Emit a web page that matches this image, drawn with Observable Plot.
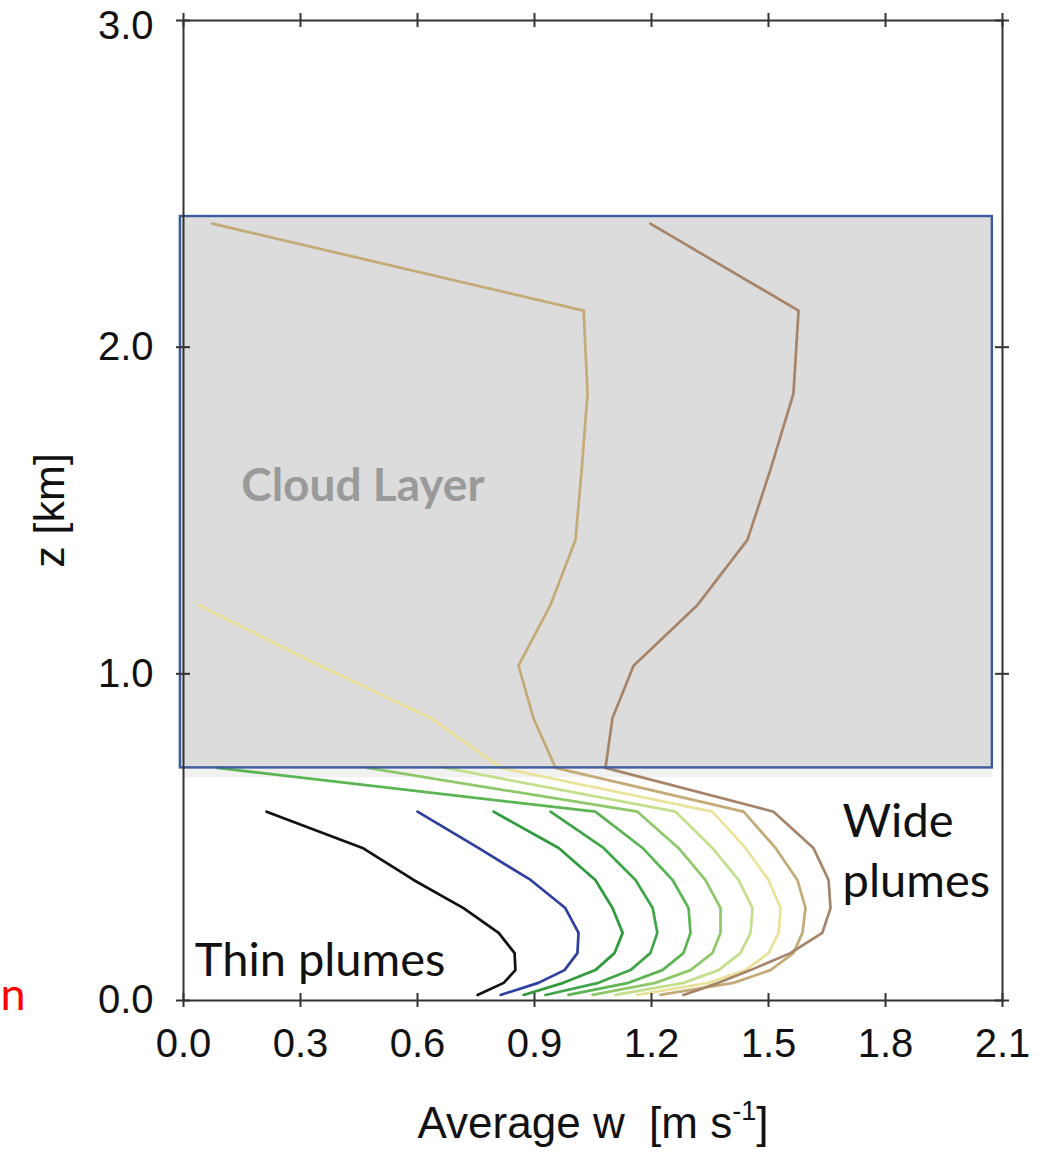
<!DOCTYPE html>
<html>
<head>
<meta charset="utf-8">
<script src="https://cdn.jsdelivr.net/npm/d3@7"></script>
<script src="https://cdn.jsdelivr.net/npm/@observablehq/plot@0.6"></script>
<style>
  html, body { margin: 0; padding: 0; background: #fff; }
  #chart svg { display: block; }
</style>
</head>
<body>
<div id="chart"></div>
<script>
// Model levels (km) on which the plume-averaged vertical velocity is sampled
const zLevels = [0.017, 0.054, 0.093, 0.145, 0.207, 0.283, 0.369, 0.467, 0.578,
                 0.712, 0.865, 1.025, 1.211, 1.41, 1.625, 1.858, 2.112, 2.378];

// Plume size classes, thin to wide
const plumeNames = ["p1", "p2", "p3", "p4", "p5", "p6", "p7", "p8", "p9", "p10"];
const plumeColors = ["#111111", "#2f3f9f", "#2e9a3c", "#3fa548", "#5ab552",
                     "#8dc86a", "#c4df8c", "#ebe29a", "#c4aa76", "#a6846a"];

// Average w (m/s) of each plume class, from the lowest level upward
const wP1  = [0.754, 0.821, 0.851, 0.849, 0.808, 0.718, 0.590, 0.459, 0.213];
const wP2  = [0.813, 0.910, 0.977, 1.010, 1.013, 0.979, 0.890, 0.756, 0.600];
const wP3  = [0.872, 0.974, 1.056, 1.105, 1.126, 1.100, 1.056, 0.962, 0.795];
const wP4  = [0.928, 1.064, 1.146, 1.197, 1.215, 1.203, 1.159, 1.077, 0.941];
const wP5  = [0.987, 1.141, 1.228, 1.282, 1.300, 1.295, 1.254, 1.177, 1.056, 0.087];
const wP6  = [1.049, 1.210, 1.300, 1.356, 1.377, 1.377, 1.338, 1.269, 1.164, 0.472];
const wP7  = [1.108, 1.282, 1.372, 1.428, 1.454, 1.459, 1.423, 1.356, 1.262, 0.672];
const wP8  = [1.164, 1.346, 1.441, 1.500, 1.526, 1.531, 1.500, 1.441, 1.356, 0.815,
              0.633, 0.351, 0.038];
const wP9  = [1.223, 1.410, 1.505, 1.564, 1.587, 1.595, 1.574, 1.518, 1.436, 0.954,
              0.897, 0.859, 0.941, 1.005, 1.021, 1.036, 1.026, 0.074];
const wP10 = [1.282, 1.372, 1.454, 1.556, 1.638, 1.659, 1.654, 1.615, 1.513, 1.082,
              1.100, 1.154, 1.318, 1.446, 1.505, 1.564, 1.577, 1.197];
const plumeW = [wP1, wP2, wP3, wP4, wP5, wP6, wP7, wP8, wP9, wP10];

// Cloud layer extent
const cloudZ = [0.712, 2.40];
const cloudW = [-0.008, 2.074];

// Axis ticks
const xTicks = [0, 0.3, 0.6, 0.9, 1.2, 1.5, 1.8, 2.1];
const yTicks = [0, 1, 2, 3];
const xTitle = "Average w  [m s-1]";

const rows = plumeW.flatMap((ws, i) =>
  ws.map((w, j) => ({plume: plumeNames[i], w, z: zLevels[j]})));
const cloud = [{w1: cloudW[0], w2: cloudW[1], z1: cloudZ[0], z2: cloudZ[1]}];

const W = 1043, H = 1154;
const mTop = 20, mBottom = 154, mLeft = 183, mRight = 41;
const innerW = W - mLeft - mRight, innerH = H - mTop - mBottom;
const tick = 7;
const axisFont = "'Liberation Sans', Arial, Helvetica, sans-serif";
const noteFont = "Lato, 'Open Sans', sans-serif";
const yFmt = d3.format(".1f");

const chart = Plot.plot({
  width: W,
  height: H,
  marginTop: mTop,
  marginBottom: mBottom,
  marginLeft: mLeft,
  marginRight: mRight,
  style: {fontFamily: axisFont, fontSize: "40px", background: "#fff", color: "#111"},
  x: {domain: [0, 2.1]},
  y: {domain: [0, 3]},
  color: {type: "ordinal", domain: plumeNames, range: plumeColors},
  marks: [
    // faint haze just beneath the cloud base
    Plot.rect(cloud, {x1: 0, x2: "w2", y1: 0.682, y2: "z1", fill: "#f1f1f1"}),
    Plot.rect(cloud, {x1: "w1", x2: "w2", y1: "z1", y2: "z2", fill: "#dcdcdc"}),
    Plot.text(["Cloud Layer"], {x: 0.148, y: 1.528, textAnchor: "start", lineAnchor: "bottom",
      fontFamily: noteFont, fontWeight: "bold", fontSize: 46, fill: "#9a9a9a"}),
    Plot.line(rows, {x: "w", y: "z", z: "plume", stroke: "plume", strokeWidth: 2.7,
      strokeLinejoin: "round", strokeLinecap: "round"}),
    Plot.rect(cloud, {x1: "w1", x2: "w2", y1: "z1", y2: "z2", fill: "none",
      stroke: "#3a5a9c", strokeWidth: 2.4}),
    Plot.frame({stroke: "#333", strokeWidth: 2}),
    // ticks crossing every side of the frame
    Plot.ruleX(xTicks, {x: d => d, insetTop: innerH - tick, insetBottom: -tick, stroke: "#333", strokeWidth: 2}),
    Plot.ruleX(xTicks, {x: d => d, insetTop: -tick, insetBottom: innerH - tick, stroke: "#333", strokeWidth: 2}),
    Plot.ruleY(yTicks, {y: d => d, insetLeft: -tick, insetRight: innerW - tick, stroke: "#333", strokeWidth: 2}),
    Plot.ruleY(yTicks, {y: d => d, insetLeft: innerW - tick, insetRight: -tick, stroke: "#333", strokeWidth: 2}),
    Plot.axisX(xTicks, {anchor: "bottom", tickSize: 0, tickPadding: 28, fontSize: 40,
      tickFormat: d3.format(".1f"), label: null}),
    Plot.axisY(yTicks.filter(d => d < 3), {anchor: "left", tickSize: 0, tickPadding: 30, fontSize: 40,
      tickFormat: yFmt, label: null}),
    // the top label sits a little lower so it stays inside the page
    Plot.axisY(yTicks.filter(d => d === 3), {anchor: "left", tickSize: 0, tickPadding: 30, fontSize: 40,
      tickFormat: yFmt, label: null, dy: 6}),
    // axis titles
    Plot.text(["z [km]"], {frameAnchor: "left", rotate: -90, dx: -133, textAnchor: "middle",
      lineAnchor: "middle", fontSize: 43, fontFamily: axisFont, fill: "#111"}),
    Plot.text([xTitle], {frameAnchor: "bottom", dy: 137, textAnchor: "middle",
      lineAnchor: "bottom", fontSize: 44, fontFamily: axisFont, fill: "#111"}),
    // annotations
    Plot.text(["Thin plumes"], {x: 0.029, y: 0.075, textAnchor: "start", lineAnchor: "bottom",
      fontFamily: noteFont, fontSize: 47, fill: "#111"}),
    Plot.text(["Wide\nplumes"], {x: 1.69, y: 0.317, textAnchor: "start", lineAnchor: "bottom",
      lineHeight: 1.28, fontFamily: noteFont, fontSize: 47, fill: "#111"}),
    Plot.text(["n"], {x: -0.405, y: -0.029, textAnchor: "end", lineAnchor: "bottom",
      fontFamily: noteFont, fontSize: 45, fill: "#ff0000"})
  ]
});

// superscript for the unit exponent in the x title
d3.select(chart).selectAll("text")
  .filter(function() { return this.textContent === xTitle; })
  .each(function() {
    const t = d3.select(this);
    t.text(null);
    t.append("tspan").text("Average w  [m s");
    t.append("tspan").attr("dy", -18).attr("font-size", 27).text("-1");
    t.append("tspan").attr("dy", 18).text("]");
  });

document.getElementById("chart").appendChild(chart);
</script>
</body>
</html>
